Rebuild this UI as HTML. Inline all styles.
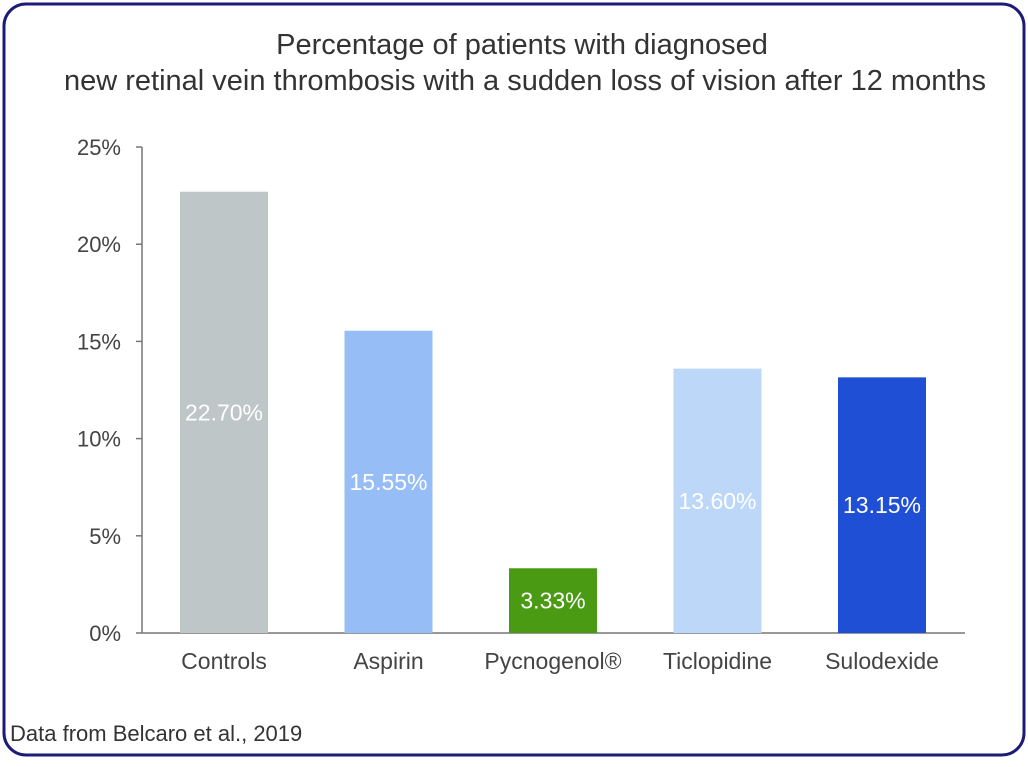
<!DOCTYPE html>
<html><head><meta charset="utf-8"><style>
html,body{margin:0;padding:0;background:#fff;}
body{width:1028px;height:762px;overflow:hidden;font-family:"Liberation Sans",sans-serif;}
</style></head><body>
<svg width="1028" height="762">
<rect x="4" y="4" width="1020" height="751" rx="22" ry="22" fill="#fff" stroke="#1c1c78" stroke-width="3"/>
<text x="522" y="54" text-anchor="middle" font-size="29" fill="#333">Percentage of patients with diagnosed</text>
<text x="525" y="90" text-anchor="middle" font-size="29" fill="#333">new retinal vein thrombosis with a sudden loss of vision after 12 months</text>
<g id="axes"></g>
<g id="bars"></g>
<text x="10" y="741" font-size="22" fill="#333">Data from Belcaro et al., 2019</text>
</svg>
<script>
const categories=["Controls","Aspirin","Pycnogenol®","Ticlopidine","Sulodexide"];
const values=[22.70,15.55,3.33,13.60,13.15];
const valueLabels=["22.70%","15.55%","3.33%","13.60%","13.15%"];
const colors=["#bfc6c8","#96bdf6","#4a9a14","#bcd7f7","#1f4fd4"];
const ticks=[0,5,10,15,20,25];
const tickLabels=["0%","5%","10%","15%","20%","25%"];
const NS="http://www.w3.org/2000/svg";
const y0=633,y1=147,vmax=25,xL=142,xR=965,first=224,step=164.5,bw=88;
const y=v=>y0-(v/vmax)*(y0-y1);
const x=i=>first+i*step;
function mk(t,a,p){const e=document.createElementNS(NS,t);for(const k in a)e.setAttribute(k,a[k]);p.appendChild(e);return e;}
const ax=document.getElementById('axes'),bg=document.getElementById('bars');
const yl=mk('line',{x1:xL,x2:xL,y1:y1,y2:y0,stroke:'#777','stroke-width':1.5},ax);


const xl=mk('line',{x1:xL,x2:xR,y1:y0,y2:y0,stroke:'#777','stroke-width':1.5},ax);


ticks.forEach((t,i)=>{
 const tk=mk('line',{x1:xL-6,x2:xL,y1:y(t),y2:y(t),stroke:'#777','stroke-width':1.5},ax);
 
 
 const tl=mk('text',{x:121,y:y(t)+8,'text-anchor':'end','font-size':22,fill:'#444'},ax);
 tl.textContent=tickLabels[i];
 
 
});
categories.forEach((c,i)=>{
 const r=mk('rect',{x:x(i)-bw/2,y:y(values[i]),width:bw,height:y0-y(values[i]),fill:colors[i]},bg);
 
 
 const vl=mk('text',{x:x(i),y:(y(values[i])+y0)/2+8,'text-anchor':'middle','font-size':23,fill:'#fff'},bg);
 vl.textContent=valueLabels[i];
 
 
 const cl=mk('text',{x:x(i),y:669,'text-anchor':'middle','font-size':23,fill:'#444'},bg);
 cl.textContent=c;
 
 
});
</script>
</body></html>
